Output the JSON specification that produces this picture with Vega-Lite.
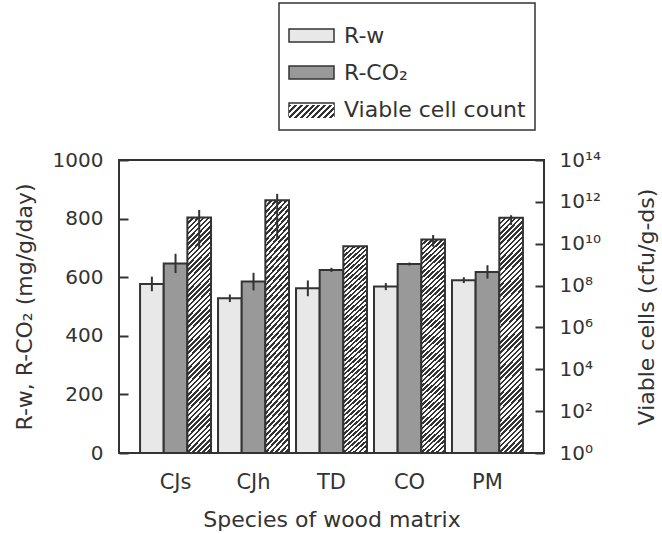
{
  "$schema": "https://vega.github.io/schema/vega-lite/v6.json",
  "width": 425,
  "height": 293,
  "autosize": "none",
  "padding": {"left": 119, "top": 160, "right": 118, "bottom": 81},
  "config": {
    "font": "DejaVu Sans",
    "view": {"stroke": "#333", "strokeWidth": 2},
    "legend": {"strokeWidth": 1.5},
    "axis": {"labelColor": "#333", "titleColor": "#333", "labelFontSize": 20, "titleFontSize": 22, "titleFontWeight": "normal", "tickColor": "#333", "tickWidth": 2, "domain": false, "grid": false}
  },
  "datasets": {
    "resp": [
      {"species": "CJs", "series": "R-w", "value": 577, "low": 552, "high": 602},
      {"species": "CJs", "series": "R-CO₂", "value": 647, "low": 614, "high": 680},
      {"species": "CJh", "series": "R-w", "value": 528, "low": 515, "high": 541},
      {"species": "CJh", "series": "R-CO₂", "value": 585, "low": 555, "high": 615},
      {"species": "TD", "series": "R-w", "value": 562, "low": 535, "high": 589},
      {"species": "TD", "series": "R-CO₂", "value": 625, "low": 618, "high": 632},
      {"species": "CO", "series": "R-w", "value": 568, "low": 556, "high": 580},
      {"species": "CO", "series": "R-CO₂", "value": 645, "low": 640, "high": 650},
      {"species": "PM", "series": "R-w", "value": 590, "low": 580, "high": 600},
      {"species": "PM", "series": "R-CO₂", "value": 618, "low": 595, "high": 641}
    ],
    "cells": [
      {"species": "CJs", "series": "Viable cell count", "value": 1.8e11, "low": 6.0e9, "high": 4.1e11},
      {"species": "CJh", "series": "Viable cell count", "value": 1.2e12, "low": 1.5e10, "high": 2.4e12},
      {"species": "TD", "series": "Viable cell count", "value": 7.6e9, "low": 7.6e9, "high": 7.6e9},
      {"species": "CO", "series": "Viable cell count", "value": 1.6e10, "low": 7.2e9, "high": 2.6e10},
      {"species": "PM", "series": "Viable cell count", "value": 1.74e11, "low": 7.9e10, "high": 2.3e11}
    ]
  },
  "encoding": {
    "x": {
      "field": "species", "type": "nominal", "sort": ["CJs", "CJh", "TD", "CO", "PM"],
      "scale": {"paddingInner": 0.09, "paddingOuter": 0.27},
      "axis": {"title": "Species of wood matrix", "labelAngle": 0, "ticks": false, "labelFontSize": 21, "labelPadding": 18, "titlePadding": 17}
    },
    "xOffset": {"field": "series", "type": "nominal", "scale": {"domain": ["R-w", "R-CO₂", "Viable cell count"], "paddingInner": 0, "paddingOuter": 0}}
  },
  "layer": [
    {
      "data": {"name": "resp"},
      "layer": [
        {
          "mark": {"type": "bar", "stroke": "#333", "strokeWidth": 2},
          "encoding": {
            "y": {"field": "value", "type": "quantitative", "stack": null, "scale": {"domain": [0, 1000], "nice": false},
              "axis": {"title": "R-w, R-CO₂ (mg/g/day)", "format": "d", "values": [0, 200, 400, 600, 800, 1000], "tickSize": -9, "labelPadding": 25, "titlePadding": 16}},
            "fill": {
              "field": "series", "type": "nominal",
              "scale": {"domain": ["R-w", "R-CO₂", "Viable cell count"], "range": ["#e8e8e8", "#999999", "#ffffff"]},
              "legend": {
                "title": null, "orient": "none", "legendX": 160, "legendY": -157, "direction": "vertical",
                "strokeColor": "#333", "padding": 9, "rowPadding": 2, "labelFontSize": 22, "labelColor": "#333", "labelLimit": 400, "labelOffset": 9,
                "symbolType": "M-1,-0.29H1V0.29H-1Z", "symbolSize": 2025, "symbolStrokeColor": "#333", "symbolStrokeWidth": 1.5, "symbolOpacity": 1
              }
            }
          }
        },
        {
          "mark": {"type": "rule", "color": "#333", "strokeWidth": 2},
          "encoding": {
            "y": {"field": "low", "type": "quantitative"},
            "y2": {"field": "high"}
          }
        }
      ]
    },
    {
      "data": {"name": "cells"},
      "layer": [
        {
          "mark": {"type": "bar", "stroke": "#333", "strokeWidth": 2,
            "fill": {"gradient": "linear", "x1": 0, "y1": 0, "x2": 0.1125, "y2": 1.0916, "stops": [
              {"offset":0,"color":"#333"},{"offset":0.01,"color":"#333"},{"offset":0.01,"color":"#fff"},{"offset":0.02,"color":"#fff"},
              {"offset":0.02,"color":"#333"},{"offset":0.03,"color":"#333"},{"offset":0.03,"color":"#fff"},{"offset":0.04,"color":"#fff"},
              {"offset":0.04,"color":"#333"},{"offset":0.05,"color":"#333"},{"offset":0.05,"color":"#fff"},{"offset":0.06,"color":"#fff"},
              {"offset":0.06,"color":"#333"},{"offset":0.07,"color":"#333"},{"offset":0.07,"color":"#fff"},{"offset":0.08,"color":"#fff"},
              {"offset":0.08,"color":"#333"},{"offset":0.09,"color":"#333"},{"offset":0.09,"color":"#fff"},{"offset":0.10,"color":"#fff"},
              {"offset":0.10,"color":"#333"},{"offset":0.11,"color":"#333"},{"offset":0.11,"color":"#fff"},{"offset":0.12,"color":"#fff"},
              {"offset":0.12,"color":"#333"},{"offset":0.13,"color":"#333"},{"offset":0.13,"color":"#fff"},{"offset":0.14,"color":"#fff"},
              {"offset":0.14,"color":"#333"},{"offset":0.15,"color":"#333"},{"offset":0.15,"color":"#fff"},{"offset":0.16,"color":"#fff"},
              {"offset":0.16,"color":"#333"},{"offset":0.17,"color":"#333"},{"offset":0.17,"color":"#fff"},{"offset":0.18,"color":"#fff"},
              {"offset":0.18,"color":"#333"},{"offset":0.19,"color":"#333"},{"offset":0.19,"color":"#fff"},{"offset":0.20,"color":"#fff"},
              {"offset":0.20,"color":"#333"},{"offset":0.21,"color":"#333"},{"offset":0.21,"color":"#fff"},{"offset":0.22,"color":"#fff"},
              {"offset":0.22,"color":"#333"},{"offset":0.23,"color":"#333"},{"offset":0.23,"color":"#fff"},{"offset":0.24,"color":"#fff"},
              {"offset":0.24,"color":"#333"},{"offset":0.25,"color":"#333"},{"offset":0.25,"color":"#fff"},{"offset":0.26,"color":"#fff"},
              {"offset":0.26,"color":"#333"},{"offset":0.27,"color":"#333"},{"offset":0.27,"color":"#fff"},{"offset":0.28,"color":"#fff"},
              {"offset":0.28,"color":"#333"},{"offset":0.29,"color":"#333"},{"offset":0.29,"color":"#fff"},{"offset":0.30,"color":"#fff"},
              {"offset":0.30,"color":"#333"},{"offset":0.31,"color":"#333"},{"offset":0.31,"color":"#fff"},{"offset":0.32,"color":"#fff"},
              {"offset":0.32,"color":"#333"},{"offset":0.33,"color":"#333"},{"offset":0.33,"color":"#fff"},{"offset":0.34,"color":"#fff"},
              {"offset":0.34,"color":"#333"},{"offset":0.35,"color":"#333"},{"offset":0.35,"color":"#fff"},{"offset":0.36,"color":"#fff"},
              {"offset":0.36,"color":"#333"},{"offset":0.37,"color":"#333"},{"offset":0.37,"color":"#fff"},{"offset":0.38,"color":"#fff"},
              {"offset":0.38,"color":"#333"},{"offset":0.39,"color":"#333"},{"offset":0.39,"color":"#fff"},{"offset":0.40,"color":"#fff"},
              {"offset":0.40,"color":"#333"},{"offset":0.41,"color":"#333"},{"offset":0.41,"color":"#fff"},{"offset":0.42,"color":"#fff"},
              {"offset":0.42,"color":"#333"},{"offset":0.43,"color":"#333"},{"offset":0.43,"color":"#fff"},{"offset":0.44,"color":"#fff"},
              {"offset":0.44,"color":"#333"},{"offset":0.45,"color":"#333"},{"offset":0.45,"color":"#fff"},{"offset":0.46,"color":"#fff"},
              {"offset":0.46,"color":"#333"},{"offset":0.47,"color":"#333"},{"offset":0.47,"color":"#fff"},{"offset":0.48,"color":"#fff"},
              {"offset":0.48,"color":"#333"},{"offset":0.49,"color":"#333"},{"offset":0.49,"color":"#fff"},{"offset":0.50,"color":"#fff"},
              {"offset":0.50,"color":"#333"},{"offset":0.51,"color":"#333"},{"offset":0.51,"color":"#fff"},{"offset":0.52,"color":"#fff"},
              {"offset":0.52,"color":"#333"},{"offset":0.53,"color":"#333"},{"offset":0.53,"color":"#fff"},{"offset":0.54,"color":"#fff"},
              {"offset":0.54,"color":"#333"},{"offset":0.55,"color":"#333"},{"offset":0.55,"color":"#fff"},{"offset":0.56,"color":"#fff"},
              {"offset":0.56,"color":"#333"},{"offset":0.57,"color":"#333"},{"offset":0.57,"color":"#fff"},{"offset":0.58,"color":"#fff"},
              {"offset":0.58,"color":"#333"},{"offset":0.59,"color":"#333"},{"offset":0.59,"color":"#fff"},{"offset":0.60,"color":"#fff"},
              {"offset":0.60,"color":"#333"},{"offset":0.61,"color":"#333"},{"offset":0.61,"color":"#fff"},{"offset":0.62,"color":"#fff"},
              {"offset":0.62,"color":"#333"},{"offset":0.63,"color":"#333"},{"offset":0.63,"color":"#fff"},{"offset":0.64,"color":"#fff"},
              {"offset":0.64,"color":"#333"},{"offset":0.65,"color":"#333"},{"offset":0.65,"color":"#fff"},{"offset":0.66,"color":"#fff"},
              {"offset":0.66,"color":"#333"},{"offset":0.67,"color":"#333"},{"offset":0.67,"color":"#fff"},{"offset":0.68,"color":"#fff"},
              {"offset":0.68,"color":"#333"},{"offset":0.69,"color":"#333"},{"offset":0.69,"color":"#fff"},{"offset":0.70,"color":"#fff"},
              {"offset":0.70,"color":"#333"},{"offset":0.71,"color":"#333"},{"offset":0.71,"color":"#fff"},{"offset":0.72,"color":"#fff"},
              {"offset":0.72,"color":"#333"},{"offset":0.73,"color":"#333"},{"offset":0.73,"color":"#fff"},{"offset":0.74,"color":"#fff"},
              {"offset":0.74,"color":"#333"},{"offset":0.75,"color":"#333"},{"offset":0.75,"color":"#fff"},{"offset":0.76,"color":"#fff"},
              {"offset":0.76,"color":"#333"},{"offset":0.77,"color":"#333"},{"offset":0.77,"color":"#fff"},{"offset":0.78,"color":"#fff"},
              {"offset":0.78,"color":"#333"},{"offset":0.79,"color":"#333"},{"offset":0.79,"color":"#fff"},{"offset":0.80,"color":"#fff"},
              {"offset":0.80,"color":"#333"},{"offset":0.81,"color":"#333"},{"offset":0.81,"color":"#fff"},{"offset":0.82,"color":"#fff"},
              {"offset":0.82,"color":"#333"},{"offset":0.83,"color":"#333"},{"offset":0.83,"color":"#fff"},{"offset":0.84,"color":"#fff"},
              {"offset":0.84,"color":"#333"},{"offset":0.85,"color":"#333"},{"offset":0.85,"color":"#fff"},{"offset":0.86,"color":"#fff"},
              {"offset":0.86,"color":"#333"},{"offset":0.87,"color":"#333"},{"offset":0.87,"color":"#fff"},{"offset":0.88,"color":"#fff"},
              {"offset":0.88,"color":"#333"},{"offset":0.89,"color":"#333"},{"offset":0.89,"color":"#fff"},{"offset":0.90,"color":"#fff"},
              {"offset":0.90,"color":"#333"},{"offset":0.91,"color":"#333"},{"offset":0.91,"color":"#fff"},{"offset":0.92,"color":"#fff"},
              {"offset":0.92,"color":"#333"},{"offset":0.93,"color":"#333"},{"offset":0.93,"color":"#fff"},{"offset":0.94,"color":"#fff"},
              {"offset":0.94,"color":"#333"},{"offset":0.95,"color":"#333"},{"offset":0.95,"color":"#fff"},{"offset":0.96,"color":"#fff"},
              {"offset":0.96,"color":"#333"},{"offset":0.97,"color":"#333"},{"offset":0.97,"color":"#fff"},{"offset":0.98,"color":"#fff"},
              {"offset":0.98,"color":"#333"},{"offset":0.99,"color":"#333"},{"offset":0.99,"color":"#fff"},{"offset":1,"color":"#fff"}
            ]}
          },
          "encoding": {
            "y": {"field": "value", "type": "quantitative", "stack": null, "scale": {"type": "log", "domain": [1, 1e14], "nice": false},
              "axis": {"orient": "right", "title": "Viable cells  (cfu/g-ds)", "titleAngle": 270, "titleBaseline": "top", "values": [1, 1e2, 1e4, 1e6, 1e8, 1e10, 1e12, 1e14], "tickSize": -9, "labelPadding": 24, "titlePadding": 36,
                "labelExpr": "datum.value < 10 ? '10⁰' : datum.value < 1000 ? '10²' : datum.value < 1e5 ? '10⁴' : datum.value < 1e7 ? '10⁶' : datum.value < 1e9 ? '10⁸' : datum.value < 1e11 ? '10¹⁰' : datum.value < 1e13 ? '10¹²' : '10¹⁴'"}},
            "y2": {"value": "height"}
          }
        },
        {
          "mark": {"type": "rule", "color": "#333", "strokeWidth": 2},
          "encoding": {
            "y": {"field": "low", "type": "quantitative"},
            "y2": {"field": "high"}
          }
        },
        {
          "mark": {"type": "bar", "opacity": 0, "stroke": "#333", "strokeWidth": 1.5,
            "fill": {"gradient": "linear", "x1": 0, "y1": 0, "x2": 1.189, "y2": 0.343, "stops": [
              {"offset":0,"color":"#333"},{"offset":0.05,"color":"#333"},{"offset":0.05,"color":"#fff"},{"offset":0.1,"color":"#fff"},
              {"offset":0.1,"color":"#333"},{"offset":0.15,"color":"#333"},{"offset":0.15,"color":"#fff"},{"offset":0.2,"color":"#fff"},
              {"offset":0.2,"color":"#333"},{"offset":0.25,"color":"#333"},{"offset":0.25,"color":"#fff"},{"offset":0.3,"color":"#fff"},
              {"offset":0.3,"color":"#333"},{"offset":0.35,"color":"#333"},{"offset":0.35,"color":"#fff"},{"offset":0.4,"color":"#fff"},
              {"offset":0.4,"color":"#333"},{"offset":0.45,"color":"#333"},{"offset":0.45,"color":"#fff"},{"offset":0.5,"color":"#fff"},
              {"offset":0.5,"color":"#333"},{"offset":0.55,"color":"#333"},{"offset":0.55,"color":"#fff"},{"offset":0.6,"color":"#fff"},
              {"offset":0.6,"color":"#333"},{"offset":0.65,"color":"#333"},{"offset":0.65,"color":"#fff"},{"offset":0.7,"color":"#fff"},
              {"offset":0.7,"color":"#333"},{"offset":0.75,"color":"#333"},{"offset":0.75,"color":"#fff"},{"offset":0.8,"color":"#fff"},
              {"offset":0.8,"color":"#333"},{"offset":0.85,"color":"#333"},{"offset":0.85,"color":"#fff"},{"offset":0.9,"color":"#fff"},
              {"offset":0.9,"color":"#333"},{"offset":0.95,"color":"#333"},{"offset":0.95,"color":"#fff"},{"offset":1,"color":"#fff"}
            ]}
          },
          "encoding": {
            "y": {"field": "value", "type": "quantitative", "stack": null},
            "y2": {"value": "height"},
            "strokeDash": {
              "datum": "Viable cell count",
              "scale": {"range": [[1, 0]]},
              "legend": {
                "title": null, "orient": "none", "legendX": 160, "legendY": -81, "direction": "vertical",
                "strokeColor": "transparent", "padding": 9, "rowPadding": 2, "labelFontSize": 22, "labelColor": "transparent", "labelLimit": 400, "labelOffset": 9,
                "labelExpr": "''",
                "symbolType": "M-1,-0.29H1V0.29H-1Z", "symbolSize": 2025, "symbolStrokeColor": "#333", "symbolStrokeWidth": 1.5, "symbolOpacity": 1
              }
            }
          }
        }
      ]
    }
  ],
  "resolve": {"scale": {"y": "independent"}, "axis": {"y": "independent"}}
}
